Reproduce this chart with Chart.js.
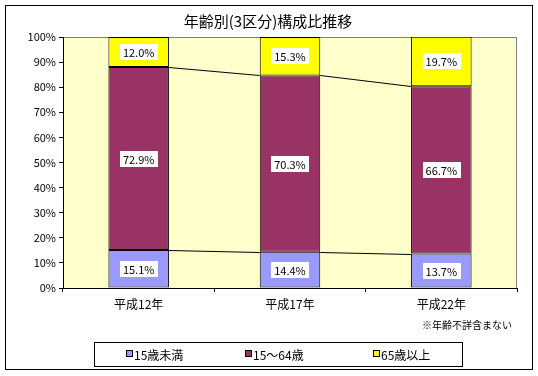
<!DOCTYPE html>
<html>
<head>
<meta charset="utf-8">
<script src="https://cdn.jsdelivr.net/npm/chart.js@4"></script>
<style>
  html, body { margin: 0; padding: 0; background: #fff; }
  #wrap { width: 538px; height: 376px; }
</style>
</head>
<body>
<div id="wrap"><canvas id="myChart" width="538" height="376"></canvas></div>
<script>
// categories and series (percent)
var years = ['平成12年', '平成17年', '平成22年'];
var under15 = [15.1, 14.4, 13.7];
var age15to64 = [72.9, 70.3, 66.7];
var over65 = [12.0, 15.3, 19.7];
var seriesNames = ['15歳未満', '15～64歳', '65歳以上'];
var seriesColors = ['#9999FF', '#993366', '#FFFF00'];
var noteText = '※年齢不詳含まない';

var jpFont = '"Noto Sans CJK JP", "MS PGothic", sans-serif';

// outer frame, plot background, series lines, labels, legend
var decorPlugin = {
    id: 'decor',
    beforeDraw: function(chart) {
        var ctx = chart.ctx;
        var a = chart.chartArea;
        ctx.save();
        ctx.fillStyle = '#ffffff';
        ctx.fillRect(0, 0, chart.width, chart.height);
        ctx.strokeStyle = '#000';
        ctx.lineWidth = 1;
        ctx.strokeRect(5.5, 5.5, 527, 364);
        ctx.fillStyle = '#FFFFCC';
        ctx.fillRect(a.left, a.top, a.right - a.left, a.bottom - a.top);
        ctx.strokeStyle = '#808080';
        ctx.strokeRect(a.left + 0.5, a.top + 0.5, a.right - a.left - 1, a.bottom - a.top);
        ctx.restore();
    },
    afterDatasetsDraw: function(chart) {
        var ctx = chart.ctx;
        ctx.save();
        // series lines between stacked tops
        ctx.strokeStyle = '#000';
        ctx.lineWidth = 1;
        [0, 1].forEach(function(di) {
            var bars = chart.getDatasetMeta(di).data;
            for (var i = 0; i < bars.length - 1; i++) {
                var p = bars[i].getProps(['x', 'y', 'width']);
                var q = bars[i + 1].getProps(['x', 'y', 'width']);
                ctx.beginPath();
                ctx.moveTo(p.x + p.width / 2, Math.round(p.y) + 0.5);
                ctx.lineTo(q.x - q.width / 2, Math.round(q.y) + 0.5);
                ctx.stroke();
            }
        });
        // value labels in white boxes
        ctx.font = '11px ' + jpFont;
        ctx.textAlign = 'center';
        ctx.textBaseline = 'middle';
        chart.data.datasets.forEach(function(ds, di) {
            chart.getDatasetMeta(di).data.forEach(function(bar, i) {
                var p = bar.getProps(['x', 'y', 'base']);
                var txt = ds.data[i].toFixed(1) + '%';
                var cy = Math.round((p.y + p.base) / 2);
                var w = ctx.measureText(txt).width + 6;
                ctx.fillStyle = '#fff';
                ctx.fillRect(Math.round(p.x - w / 2), cy - 8, Math.round(w), 16);
                ctx.fillStyle = '#000';
                ctx.fillText(txt, p.x, cy + 1);
            });
        });
        // note
        ctx.font = '10px ' + jpFont;
        ctx.textAlign = 'right';
        ctx.fillText(noteText, 512, 325);
        // legend box
        ctx.strokeStyle = '#000';
        ctx.fillStyle = '#fff';
        ctx.fillRect(94.5, 342.5, 368, 24);
        ctx.strokeRect(94.5, 342.5, 368, 24);
        var itemX = [126, 245, 373];
        ctx.font = '12px ' + jpFont;
        ctx.textAlign = 'left';
        chart.data.datasets.forEach(function(ds, di) {
            var x = itemX[di];
            ctx.fillStyle = ds.backgroundColor;
            ctx.fillRect(x + 0.5, 350.5, 6, 6);
            ctx.strokeRect(x + 0.5, 350.5, 6, 6);
            ctx.fillStyle = '#000';
            ctx.fillText(ds.label, x + 8, 355);
        });
        ctx.restore();
    }
};

var datasets = [under15, age15to64, over65].map(function(vals, i) {
    return {
        label: seriesNames[i],
        data: vals,
        backgroundColor: seriesColors[i],
        borderColor: '#000',
        borderWidth: 1,
        borderSkipped: false,
        categoryPercentage: 1.0,
        barPercentage: 0.4
    };
});

var ctx = document.getElementById('myChart');
var myChart = new Chart(ctx, {
    type: 'bar',
    data: { labels: years, datasets: datasets },
    plugins: [decorPlugin],
    options: {
        responsive: false,
        animation: false,
        layout: { padding: { left: 19, right: 21, top: 0, bottom: 0 } },
        plugins: {
            legend: { display: false },
            tooltip: { enabled: false },
            title: {
                display: true,
                text: '年齢別(3区分)構成比推移',
                color: '#000',
                font: { family: jpFont, size: 15, weight: 'normal' },
                padding: { top: 12, bottom: 7 }
            }
        },
        scales: {
            x: {
                stacked: true,
                offset: true,
                grid: {
                    display: true,
                    drawOnChartArea: false,
                    offset: true,
                    tickLength: 4,
                    color: '#000'
                },
                border: { color: '#000' },
                ticks: {
                    color: '#000',
                    padding: 5,
                    font: { family: jpFont, size: 12 }
                },
                afterFit: function(scale) { scale.height = 88; }
            },
            y: {
                stacked: true,
                min: 0,
                max: 100,
                grid: {
                    drawOnChartArea: false,
                    tickLength: 4,
                    color: '#000'
                },
                border: { color: '#000' },
                ticks: {
                    stepSize: 10,
                    color: '#000',
                    padding: 3,
                    font: { family: jpFont, size: 11 },
                    callback: function(v) { return v + '%'; }
                },
                afterFit: function(scale) { scale.width = 44; }
            }
        }
    }
});
</script>
</body>
</html>
